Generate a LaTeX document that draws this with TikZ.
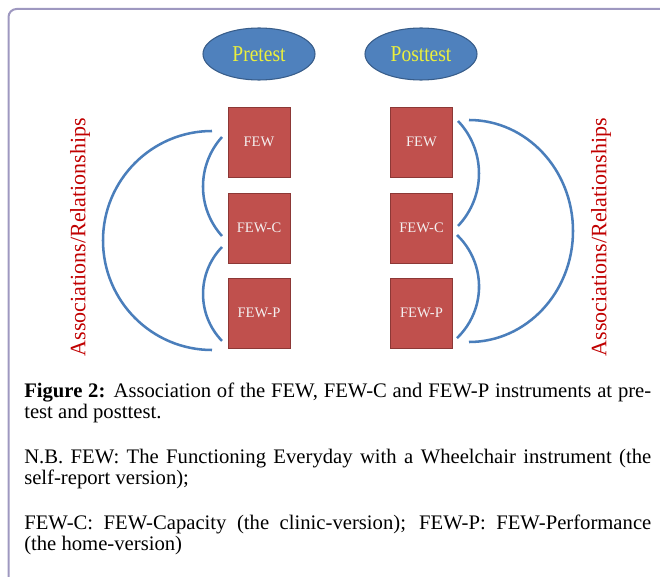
\documentclass[tikz,border=0pt]{standalone}
\usepackage{fontspec}
\setmainfont{Liberation Serif}
\usetikzlibrary{shapes.geometric}
\definecolor{framecol}{RGB}{158,152,192}
\definecolor{boxfill}{RGB}{192,80,77}
\definecolor{boxline}{RGB}{140,56,54}
\definecolor{ellfill}{RGB}{79,129,189}
\definecolor{ellline}{RGB}{56,93,138}
\definecolor{arccol}{RGB}{74,126,187}
\definecolor{reltext}{RGB}{192,0,0}
\definecolor{labyellow}{RGB}{236,240,60}
\definecolor{boxtext}{RGB}{244,240,240}
\tikzset{
  fewbox/.style={draw=boxline, fill=boxfill, line width=0.6pt, minimum width=46.5pt, minimum height=52.5pt, inner sep=0pt,
     text=boxtext, font=\fontsize{10.9pt}{12pt}\selectfont},
  phase/.style={ellipse, draw=ellline, fill=ellfill, line width=0.8pt, minimum width=84pt, minimum height=39pt, inner sep=0pt,
     text=labyellow, font=\fontsize{17pt}{18pt}\selectfont},
  relarc/.style={draw=arccol, line width=1.9pt},
  reltxt/.style={rotate=90, text=reltext, font=\fontsize{16.5pt}{18pt}\selectfont, inner sep=0pt}
}
\begin{document}
\begin{tikzpicture}[x=0.75pt,y=0.75pt]
\useasboundingbox (0,0) rectangle (660,576);
\begin{scope}
\clip (0,0) rectangle (660,576);
\draw[framecol, line width=1.5pt, rounded corners=6pt] (8.5,567) rectangle (720,-40);
\end{scope}
% phases
\node[phase] (pre) at (259,522) {\scalebox{0.86}[1]{Pretest}};
\node[phase] (post) at (421,522) {\scalebox{0.86}[1]{Posttest}};
% boxes
\node[fewbox] (lfew) at (259,434) {FEW};
\node[fewbox] (lfewc) at (259,348) {FEW-C};
\node[fewbox] (lfewp) at (259,263) {FEW-P};
\node[fewbox] (rfew) at (421.5,434) {FEW};
\node[fewbox] (rfewc) at (421.5,348) {FEW-C};
\node[fewbox] (rfewp) at (421.5,263) {FEW-P};
% arc end points
\coordinate (la0) at (212,445);
\coordinate (la1) at (222,439);
\coordinate (la2) at (222,329);
\coordinate (ra0) at (469,456);
\coordinate (ra1) at (458,455);
\coordinate (ra2) at (457,341);
% left arcs
\draw[relarc] (la0) arc[start angle=90, end angle=270, x radius=109, y radius=109.5];
\draw[relarc] (la1) arc[start angle=138, end angle=222, radius=74];
\draw[relarc] (la2) arc[start angle=136, end angle=224, radius=67.6];
% right arcs
\draw[relarc] (ra0) arc[start angle=90, end angle=-90, x radius=104, y radius=111];
\draw[relarc] (ra1) arc[start angle=43.6, end angle=-43.6, radius=76.1];
\draw[relarc] (ra2) arc[start angle=46.3, end angle=-46.3, radius=71.3];
% side labels
\node[reltxt] (lrel) at (80,339) {Associations/Relationships};
\node[reltxt] (rrel) at (601,339) {Associations/Relationships};
% caption
\node[anchor=base west, inner sep=0pt] (cap) at (24,179) {\parbox[t]{470.25pt}{%
\fontsize{15.5pt}{15.75pt}\selectfont\setlength{\parskip}{18pt}\setlength{\parindent}{0pt}\hbadness=10000\hfuzz=5pt
\textbf{Figure 2:} Association of the FEW, FEW-C and FEW-P instruments at pre-\linebreak test and posttest.\par
N.B. FEW: The Functioning Everyday with a Wheelchair instrument (the\linebreak self-report version);\par
FEW-C: FEW-Capacity (the clinic-version); FEW-P: FEW-Performance\linebreak (the home-version)}};
\end{tikzpicture}
\end{document}
